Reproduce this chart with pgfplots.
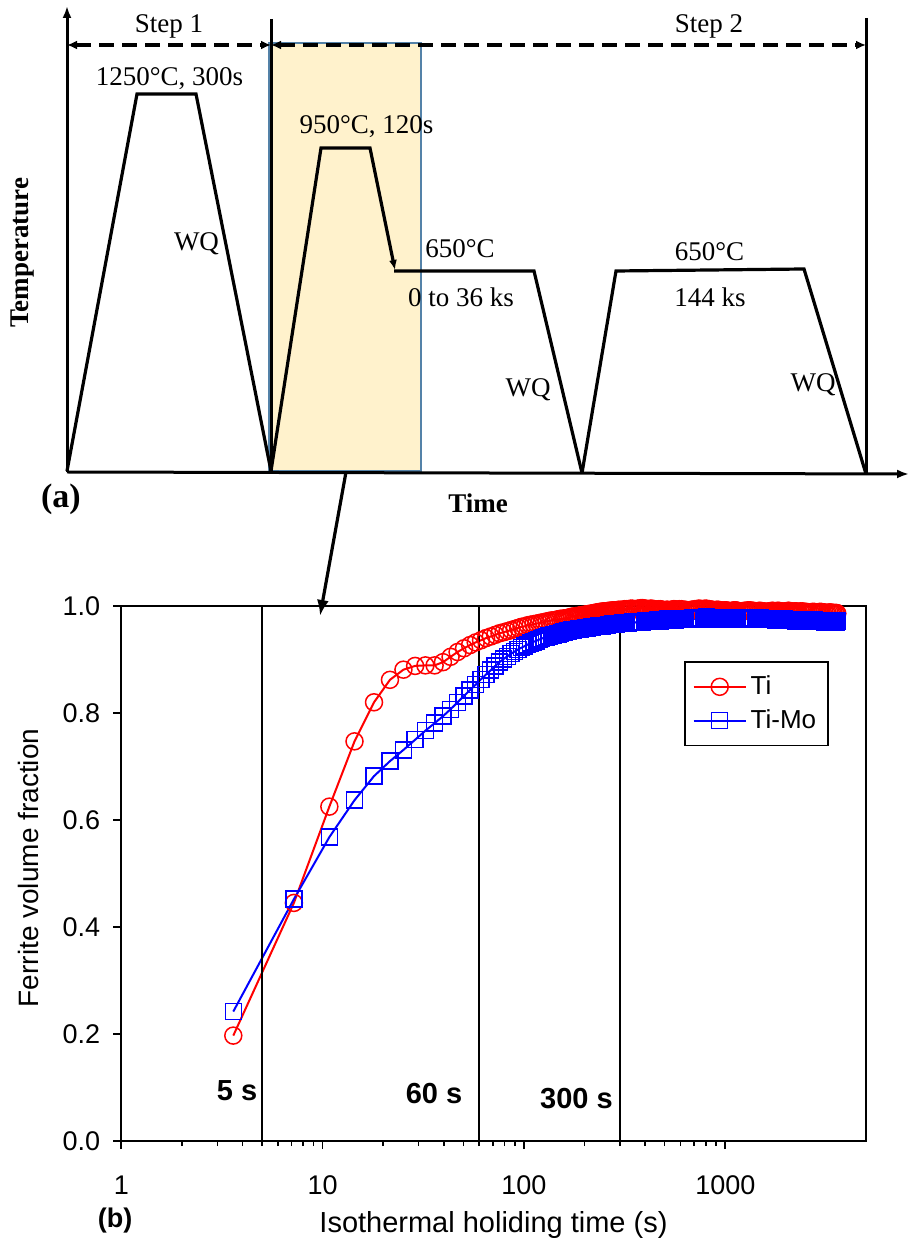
\documentclass[border=0pt]{standalone}
\usepackage{fontspec}
\setmainfont{Liberation Serif}
\newfontfamily\arial{Liberation Sans}
\usepackage{pgfplots}
\pgfplotsset{compat=1.18}
\usepackage{pgfplotstable}
\usetikzlibrary{arrows.meta}

\definecolor{boxfill}{RGB}{255,242,204}
\definecolor{boxedge}{RGB}{84,130,168}

% Ti (red)
\pgfplotstableread{
t y
3.6 0.197
7.2 0.445
10.8 0.625
14.4 0.747
18 0.820
21.6 0.862
25.2 0.881
28.8 0.888
32.4 0.889
36 0.889
39.6 0.895
43.2 0.905
46.8 0.914
50.4 0.921
54 0.927
57.6 0.932
61.2 0.936
64.8 0.940
68.4 0.943
72 0.946
75.6 0.949
79.2 0.951
82.8 0.953
86.4 0.955
90 0.957
93.6 0.959
97.2 0.961
100.8 0.962
104.4 0.964
108 0.965
111.6 0.966
115.2 0.967
118.8 0.968
122.4 0.969
126 0.970
129.6 0.971
133.2 0.972
136.8 0.973
140.4 0.973
144 0.974
147.6 0.975
151.2 0.976
154.8 0.976
158.4 0.977
162 0.977
165.6 0.978
169.2 0.979
172.8 0.980
176.4 0.980
180 0.981
183.6 0.981
187.2 0.982
190.8 0.982
194.4 0.983
198 0.983
201.6 0.984
205.2 0.984
208.8 0.985
212.4 0.985
216 0.986
219.6 0.986
223.2 0.987
226.8 0.987
230.4 0.988
234 0.988
237.6 0.989
241.2 0.989
244.8 0.989
248.4 0.990
252 0.990
255.6 0.990
259.2 0.990
262.8 0.991
266.4 0.991
270 0.991
273.6 0.991
277.2 0.992
280.8 0.992
284.4 0.992
288 0.992
295.2 0.993
302.4 0.993
309.6 0.993
316.8 0.994
324 0.994
331.2 0.994
338.4 0.995
345.6 0.995
352.8 0.994
360 0.994
367.2 0.995
374.4 0.995
381.6 0.996
388.8 0.996
396 0.995
403.2 0.995
410.4 0.994
417.6 0.994
424.8 0.995
432 0.995
439.2 0.994
446.4 0.994
453.6 0.993
460.8 0.993
468 0.994
475.2 0.994
482.4 0.993
489.6 0.993
496.8 0.992
504 0.992
511.2 0.993
518.4 0.993
525.6 0.992
532.8 0.992
540 0.993
547.2 0.993
554.4 0.994
561.6 0.994
568.8 0.993
576 0.993
590.4 0.994
604.8 0.994
619.2 0.993
633.6 0.993
648 0.992
662.4 0.992
676.8 0.993
691.2 0.993
705.6 0.994
720 0.994
734.4 0.995
748.8 0.995
763.2 0.994
777.6 0.994
792 0.995
806.4 0.995
820.8 0.994
835.2 0.994
849.6 0.993
864 0.993
878.4 0.992
892.8 0.992
907.2 0.993
921.6 0.993
936 0.992
950.4 0.992
964.8 0.991
979.2 0.991
993.6 0.992
1008 0.992
1022.4 0.991
1036.8 0.991
1051.2 0.990
1065.6 0.990
1080 0.991
1094.4 0.991
1108.8 0.992
1123.2 0.992
1137.6 0.991
1152 0.991
1180.8 0.990
1209.6 0.990
1238.4 0.991
1267.2 0.991
1296 0.992
1324.8 0.992
1353.6 0.991
1382.4 0.991
1411.2 0.990
1440 0.990
1468.8 0.991
1497.6 0.991
1526.4 0.990
1555.2 0.990
1584 0.989
1612.8 0.989
1641.6 0.990
1670.4 0.990
1699.2 0.991
1728 0.991
1756.8 0.990
1785.6 0.990
1814.4 0.991
1843.2 0.991
1872 0.990
1900.8 0.990
1929.6 0.989
1958.4 0.989
1987.2 0.990
2016 0.990
2044.8 0.991
2073.6 0.991
2102.4 0.990
2131.2 0.990
2160 0.989
2188.8 0.989
2217.6 0.990
2246.4 0.990
2275.2 0.989
2304 0.989
2361.6 0.990
2419.2 0.990
2476.8 0.989
2534.4 0.989
2592 0.988
2649.6 0.988
2707.2 0.989
2764.8 0.989
2822.4 0.988
2880 0.988
2937.6 0.989
2995.2 0.989
3052.8 0.988
3110.4 0.988
3168 0.987
3225.6 0.987
3283.2 0.988
3340.8 0.988
3398.4 0.987
3456 0.987
3513.6 0.987
3571.2 0.987
3600 0.986
}\tiTable

% Ti-Mo (blue)
\pgfplotstableread{
t y
3.6 0.242
7.2 0.452
10.8 0.568
14.4 0.637
18 0.682
21.6 0.710
25.2 0.731
28.8 0.750
32.4 0.767
36 0.781
39.6 0.794
43.2 0.807
46.8 0.820
50.4 0.832
54 0.843
57.6 0.853
61.2 0.863
64.8 0.872
68.4 0.880
72 0.888
75.6 0.895
79.2 0.901
82.8 0.906
86.4 0.911
90 0.915
93.6 0.919
97.2 0.922
100.8 0.925
104.4 0.928
108 0.931
111.6 0.933
115.2 0.935
118.8 0.937
122.4 0.939
126 0.941
129.6 0.942
133.2 0.944
136.8 0.945
140.4 0.946
144 0.947
147.6 0.948
151.2 0.949
154.8 0.950
158.4 0.951
162 0.952
165.6 0.953
169.2 0.954
172.8 0.955
176.4 0.955
180 0.956
183.6 0.956
187.2 0.957
190.8 0.957
194.4 0.958
198 0.958
201.6 0.959
205.2 0.959
208.8 0.960
212.4 0.960
216 0.961
219.6 0.961
223.2 0.962
226.8 0.962
230.4 0.962
234 0.963
237.6 0.963
241.2 0.963
244.8 0.963
248.4 0.964
252 0.964
255.6 0.964
259.2 0.964
262.8 0.965
266.4 0.965
270 0.965
273.6 0.965
277.2 0.966
280.8 0.966
284.4 0.966
288 0.966
295.2 0.967
302.4 0.967
309.6 0.968
316.8 0.969
324 0.968
331.2 0.968
338.4 0.969
345.6 0.970
352.8 0.970
360 0.969
367.2 0.970
374.4 0.971
381.6 0.971
388.8 0.970
396 0.971
403.2 0.972
410.4 0.972
417.6 0.971
424.8 0.972
432 0.973
439.2 0.973
446.4 0.972
453.6 0.973
460.8 0.974
468 0.973
475.2 0.972
482.4 0.974
489.6 0.975
496.8 0.974
504 0.973
511.2 0.975
518.4 0.976
525.6 0.975
532.8 0.974
540 0.975
547.2 0.976
554.4 0.975
561.6 0.974
568.8 0.976
576 0.977
590.4 0.976
604.8 0.975
619.2 0.976
633.6 0.977
648 0.976
662.4 0.975
676.8 0.977
691.2 0.978
705.6 0.976
720 0.975
734.4 0.977
748.8 0.978
763.2 0.977
777.6 0.976
792 0.978
806.4 0.979
820.8 0.977
835.2 0.976
849.6 0.977
864 0.978
878.4 0.976
892.8 0.975
907.2 0.977
921.6 0.978
936 0.977
950.4 0.976
964.8 0.977
979.2 0.978
993.6 0.976
1008 0.975
1022.4 0.976
1036.8 0.977
1051.2 0.976
1065.6 0.975
1080 0.977
1094.4 0.978
1108.8 0.977
1123.2 0.976
1137.6 0.977
1152 0.978
1180.8 0.976
1209.6 0.975
1238.4 0.976
1267.2 0.977
1296 0.976
1324.8 0.975
1353.6 0.977
1382.4 0.978
1411.2 0.977
1440 0.976
1468.8 0.977
1497.6 0.978
1526.4 0.976
1555.2 0.975
1584 0.976
1612.8 0.977
1641.6 0.976
1670.4 0.975
1699.2 0.976
1728 0.977
1756.8 0.975
1785.6 0.974
1814.4 0.975
1843.2 0.976
1872 0.975
1900.8 0.974
1929.6 0.975
1958.4 0.976
1987.2 0.974
2016 0.973
2044.8 0.974
2073.6 0.975
2102.4 0.974
2131.2 0.973
2160 0.974
2188.8 0.975
2217.6 0.973
2246.4 0.972
2275.2 0.974
2304 0.975
2361.6 0.973
2419.2 0.972
2476.8 0.973
2534.4 0.974
2592 0.972
2649.6 0.971
2707.2 0.973
2764.8 0.974
2822.4 0.972
2880 0.971
2937.6 0.972
2995.2 0.973
3052.8 0.971
3110.4 0.970
3168 0.972
3225.6 0.973
3283.2 0.971
3340.8 0.970
3398.4 0.971
3456 0.972
3513.6 0.971
3571.2 0.970
3600 0.972
}\timoTable

\begin{document}
\begin{tikzpicture}
\useasboundingbox (0,0) rectangle (455pt,623.5pt);

% ---------- (a) schematic, in pixel coordinates ----------
\begin{axis}[at={(0pt,0pt)}, anchor=south west, scale only axis,
  width=455pt, height=623.5pt, xmin=0, xmax=910, ymin=0, ymax=1247,
  y dir=reverse, hide axis, clip=false]
\addplot[fill=boxfill, draw=boxedge, line width=0.8pt] coordinates {(269,43) (421,43) (421,471) (269,471)} -- cycle;
% axes
\addplot[black, line width=1.5pt, -{Latex[length=6pt,width=4.5pt]}] coordinates {(67,472) (67,6)};
\addplot[black, line width=1.5pt, -{Latex[length=6pt,width=4.5pt]}] coordinates {(67,472) (909,474)};
\addplot[black, line width=1.5pt] coordinates {(271,19) (271,472)};
\addplot[black, line width=1.5pt] coordinates {(866,18) (866,474)};
% dashed step arrows
\addplot[black, line width=1.6pt, dash pattern=on 7.5pt off 4pt, {Latex[length=5pt,width=4.5pt]}-{Latex[length=5pt,width=4.5pt]}] coordinates {(67,45) (271,45)};
\addplot[black, line width=1.6pt, dash pattern=on 7.5pt off 4pt, {Latex[length=5pt,width=4.5pt]}-{Latex[length=5pt,width=4.5pt]}] coordinates {(271,45) (866,45)};
% profiles
\addplot[black, line width=1.6pt] coordinates {(67,471) (137,94) (196,94) (271,471)};
\addplot[black, line width=1.6pt, -{Latex[length=5pt,width=4pt]}] coordinates {(271,471) (321,148) (370,148) (395,270)};
\addplot[black, line width=1.6pt] coordinates {(394,271) (534,271) (582,473)};
\addplot[black, line width=1.6pt] coordinates {(582,473) (616,271) (804,269) (866,474)};
% connector arrow
\addplot[black, line width=1.6pt, -{Latex[length=8pt,width=6pt]}] coordinates {(346,472) (320,616)};
% texts
\begin{scope}[every node/.style={font=\fontsize{13.5}{16}\selectfont, inner sep=0pt, anchor=base}]
\node at (axis cs:169,33) {Step 1};
\node at (axis cs:709,33) {Step 2};
\node at (axis cs:169.5,86) {1250°C, 300s};
\node at (axis cs:366.5,134) {950°C, 120s};
\node at (axis cs:196.5,251) {WQ};
\node at (axis cs:460,258) {650°C};
\node at (axis cs:461,307) {0 to 36 ks};
\node at (axis cs:528,397) {WQ};
\node at (axis cs:709.5,261) {650°C};
\node at (axis cs:710,307) {144 ks};
\node at (axis cs:813,392) {WQ};
\node[font=\fontsize{13.5}{16}\selectfont\bfseries] at (axis cs:478,513) {Time};
\node[font=\fontsize{17}{20}\selectfont\bfseries] at (axis cs:61,508) {(a)};
\node[font=\fontsize{13.5}{16}\selectfont\bfseries, rotate=90, anchor=center] at (axis cs:23,253) {Temperature};
\end{scope}
\end{axis}

% ---------- (b) ferrite fraction ----------
\begin{axis}[at={(60.65pt,53pt)}, anchor=south west, scale only axis,
  width=372.35pt, height=267.5pt,
  xmode=log, xmin=1, xmax=5000, ymin=0, ymax=1,
  xtick={1,10,100,1000}, xticklabels={1,10,100,1000},
  ytick={0,0.2,0.4,0.6,0.8,1},
  /pgf/number format/fixed, /pgf/number format/fixed zerofill,
  /pgf/number format/precision=1,
  /pgf/number format/assume math mode=true,
  scaled y ticks=false,
  tick align=outside, xtick pos=bottom, ytick pos=left,
  major tick length=4pt, minor tick length=2.5pt,
  axis line style={line width=0.8pt}, tick style={line width=0.8pt, black},
  ticklabel style={font=\arial\fontsize{13.5}{16}\selectfont},
  xticklabel style={yshift=-10pt},
  yticklabel style={xshift=-3pt},
  legend style={at={(0.9503,0.897)}, anchor=north east, draw=black, line width=0.8pt,
    fill=white, font=\arial\fontsize{13}{15}\selectfont, inner xsep=4pt, inner ysep=5pt,
    row sep=2pt},
  legend cell align=left,
  legend image code/.code={\draw[mark repeat=2,mark phase=2,#1] plot coordinates {(0pt,0pt) (13pt,0pt) (26pt,0pt)};},
  clip=false]
\addplot[red, line width=1pt, mark=o, mark size=4.25pt, mark options={line width=0.75pt, solid}] table[x=t,y=y] {\tiTable};
\addlegendentry{Ti}
\addplot[blue, line width=1pt, mark=square, mark size=4pt, mark options={line width=0.75pt, solid}] table[x=t,y=y] {\timoTable};
\addlegendentry{Ti-Mo}
\addplot[black, line width=1pt, forget plot] coordinates {(5,0) (5,1)};
\addplot[black, line width=1pt, forget plot] coordinates {(60,0) (60,1)};
\addplot[black, line width=1pt, forget plot] coordinates {(300,0) (300,1)};
\end{axis}

% labels of (b), absolute placement (1px = 0.5pt, y up)
\begin{scope}[every node/.style={inner sep=0pt}]
\node[font=\arial\fontsize{14.5}{17}\selectfont\bfseries, anchor=base] at (118.5pt,73pt) {5 s};
\node[font=\arial\fontsize{14.5}{17}\selectfont\bfseries, anchor=base] at (217pt,71.5pt) {60 s};
\node[font=\arial\fontsize{14.5}{17}\selectfont\bfseries, anchor=base] at (288.25pt,69pt) {300 s};
\node[font=\arial\fontsize{14}{17}\selectfont, rotate=90] at (14pt,189.5pt) {Ferrite volume fraction};
\node[font=\arial\fontsize{14.5}{17}\selectfont, anchor=base] at (246.75pt,7pt) {Isothermal holiding time (s)};
\node[font=\arial\fontsize{13.5}{16}\selectfont\bfseries, anchor=base] at (57.5pt,9.5pt) {(b)};
\end{scope}
\end{tikzpicture}
\end{document}
